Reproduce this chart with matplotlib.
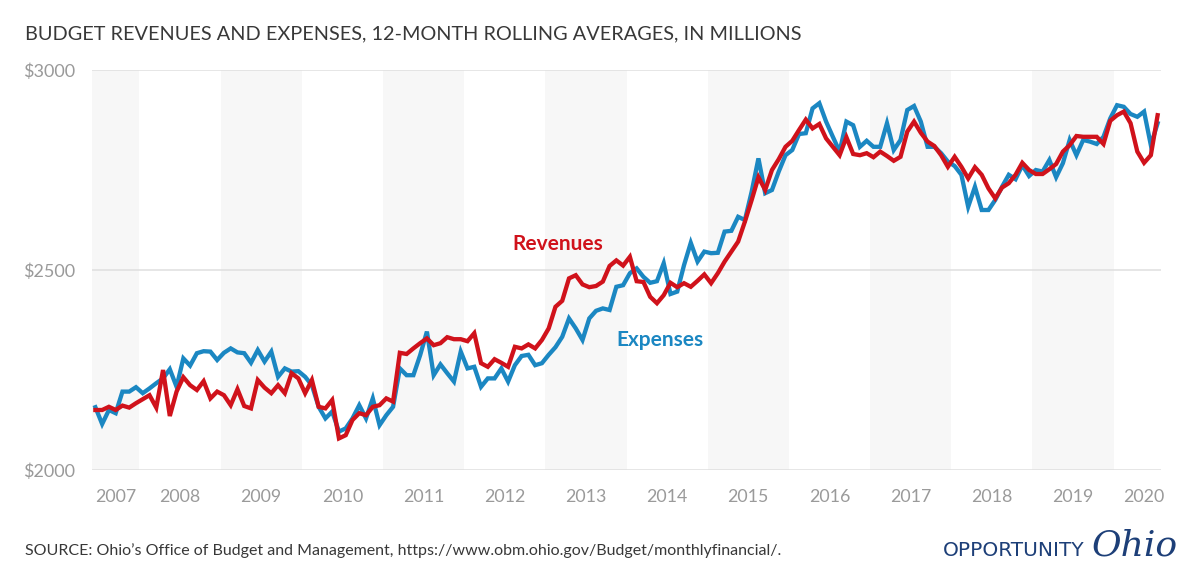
import matplotlib
matplotlib.use("Agg")
import matplotlib.pyplot as plt

# ---------------- data (monthly, Dec 2006 .. Jan 2020) ----------------
expenses = [
    2157, 2115, 2150, 2142, 2196, 2196, 2207, 2192, 2204, 2217, 2229, 2252,
    2208, 2279, 2261, 2292, 2297, 2296, 2275, 2293, 2304, 2294, 2292, 2268,
    2300, 2271, 2296, 2233, 2254, 2246, 2247, 2233, 2212, 2158, 2129, 2146,
    2096, 2104, 2129, 2162, 2129, 2179, 2112, 2137, 2158, 2254, 2237, 2237,
    2287, 2346, 2237, 2264, 2242, 2221, 2296, 2254, 2258, 2208, 2229, 2229,
    2254, 2221, 2262, 2285, 2288, 2262, 2267, 2288, 2307, 2333, 2379, 2354,
    2325, 2379, 2398, 2404, 2400, 2458, 2462, 2492, 2504, 2483, 2468, 2472,
    2517, 2440, 2446, 2512, 2568, 2521, 2546, 2542, 2543, 2596, 2598, 2633,
    2625, 2696, 2779, 2692, 2700, 2746, 2787, 2800, 2840, 2842, 2904, 2917,
    2871, 2833, 2796, 2871, 2862, 2808, 2823, 2808, 2808, 2867, 2800, 2825,
    2900, 2910, 2871, 2808, 2808, 2792, 2771, 2760, 2738, 2658, 2708, 2650,
    2650, 2675, 2708, 2738, 2727, 2762, 2735, 2750, 2746, 2775, 2732, 2767,
    2825, 2787, 2825, 2821, 2815, 2833, 2879, 2912, 2908, 2890, 2883, 2896,
    2812, 2867,
]
revenues = [
    2150, 2150, 2158, 2150, 2161, 2156, 2167, 2177, 2187, 2156, 2250, 2135,
    2196, 2232, 2212, 2200, 2222, 2179, 2196, 2187, 2162, 2202, 2160, 2154,
    2225, 2206, 2192, 2212, 2192, 2242, 2229, 2192, 2225, 2158, 2154, 2175,
    2079, 2087, 2125, 2142, 2137, 2158, 2162, 2179, 2171, 2293, 2290, 2304,
    2317, 2329, 2312, 2317, 2332, 2327, 2327, 2322, 2342, 2267, 2258, 2277,
    2268, 2258, 2308, 2304, 2314, 2304, 2325, 2354, 2408, 2423, 2479, 2487,
    2464, 2457, 2460, 2471, 2510, 2524, 2511, 2533, 2472, 2470, 2433, 2417,
    2437, 2468, 2457, 2467, 2458, 2473, 2489, 2467, 2492, 2521, 2546, 2571,
    2621, 2675, 2732, 2700, 2750, 2777, 2808, 2823, 2850, 2876, 2854, 2865,
    2829, 2808, 2787, 2832, 2790, 2787, 2792, 2782, 2796, 2785, 2773, 2783,
    2846, 2871, 2843, 2821, 2810, 2787, 2758, 2783, 2758, 2729, 2757, 2738,
    2704, 2679, 2706, 2717, 2738, 2768, 2750, 2740, 2740, 2752, 2765, 2796,
    2812, 2835, 2833, 2833, 2833, 2815, 2873, 2887, 2896, 2867, 2796, 2768,
    2787, 2887,
]
fiscal_years = ["2007", "2008", "2009", "2010", "2011", "2012", "2013",
                "2014", "2015", "2016", "2017", "2018", "2019", "2020"]
y_ticks = [2000, 2500, 3000]
y_labels = ["$2000", "$2500", "$3000"]

# ---------------- style ----------------
RED = "#d0121b"
BLUE = "#1b87c2"
NAVY = "#1d3f78"
GRAY_TXT = "#9a9a9a"
DARK = "#383838"
FONT = "Lato"

W, H = 1200, 584
fig = plt.figure(figsize=(W / 100, H / 100), dpi=100)
fig.patch.set_facecolor("white")

left, right, top, bottom = 92, 1161, 70, 470
ax = fig.add_axes([left / W, 1 - bottom / H, (right - left) / W, (bottom - top) / H])
ax.set_facecolor("white")

n = len(expenses)
x = list(range(n))
x0, x1 = -0.5, n - 0.5
ax.set_xlim(x0, x1)
ax.set_ylim(2000, 3000)

# fiscal-year bands (July-June); first FY boundary at July 2007 (index 7)
edges = [x0] + [6.5 + 12 * k for k in range(13)] + [x1]
centers = []
for k in range(len(edges) - 1):
    a, b = edges[k], edges[k + 1]
    centers.append((a + b) / 2)
    if k % 2 == 0:
        ax.axvspan(a, b, color="#f7f7f7", lw=0, zorder=0)
centers[-1] += 1.0

for yv in y_ticks:
    ax.axhline(yv, color="#e1e1e1", lw=1.2, zorder=1)

ax.plot(x, expenses, color=BLUE, lw=3.1, zorder=3, solid_joinstyle="miter")
ax.plot(x, revenues, color=RED, lw=3.1, zorder=4, solid_joinstyle="miter")

for s in ax.spines.values():
    s.set_visible(False)
ax.set_xticks(centers)
ax.set_xticklabels(fiscal_years, fontfamily=FONT, fontsize=12.8, color=GRAY_TXT)
ax.set_yticks(y_ticks)
ax.set_yticklabels(y_labels, fontfamily=FONT, fontsize=13, color=GRAY_TXT)
ax.tick_params(axis="both", length=0)
ax.tick_params(axis="x", pad=14)
ax.tick_params(axis="y", pad=12)

# series labels
ax.text(68.3, 2565, "Revenues", color=RED, fontfamily=FONT, fontweight="bold",
        fontsize=15, ha="center", va="center", zorder=5)
ax.text(83.4, 2325, "Expenses", color=BLUE, fontfamily=FONT, fontweight="bold",
        fontsize=15, ha="center", va="center", zorder=5)

def fx(px):
    return px / W

def fy(py):
    return 1 - py / H

fig.text(fx(25), fy(34), "BUDGET REVENUES AND EXPENSES, 12-MONTH ROLLING AVERAGES, IN MILLIONS",
         fontfamily=FONT, fontsize=14.3, color=DARK, ha="left", va="center")
fig.text(fx(25), fy(551),
         "SOURCE: Ohio\u2019s Office of Budget and Management, https://www.obm.ohio.gov/Budget/monthlyfinancial/.",
         fontfamily=FONT, fontsize=11.5, color=DARK, ha="left", va="center")
fig.text(fx(1084), fy(551), "OPPORTUNITY", fontfamily="DejaVu Sans", fontsize=14.5,
         color=NAVY, ha="right", va="center")
fig.text(fx(1092), fy(546), "Ohio", fontfamily="DejaVu Serif", fontstyle="italic",
         fontsize=26, color=NAVY, ha="left", va="center")

fig.savefig("out.png", dpi=100, facecolor="white")
